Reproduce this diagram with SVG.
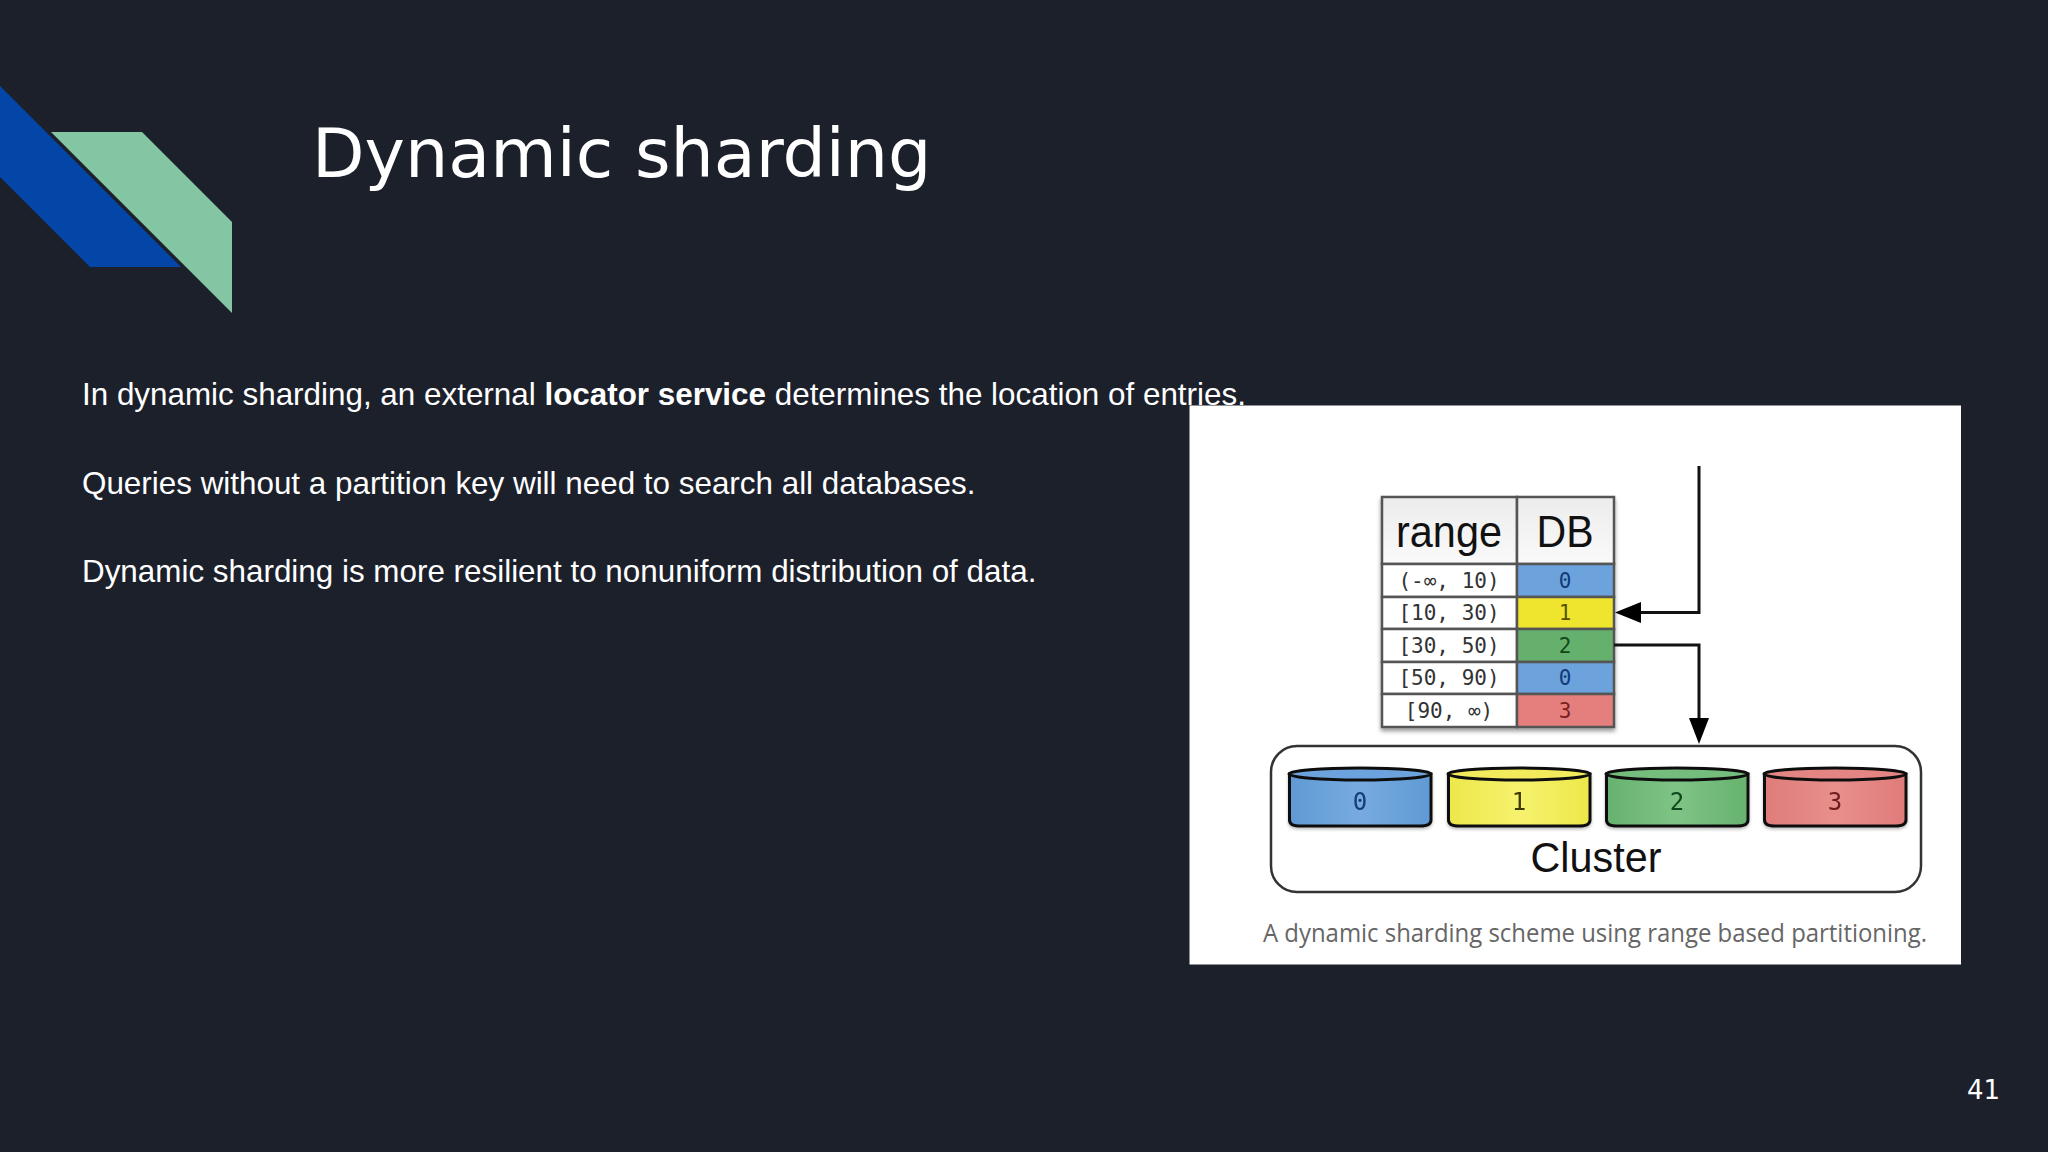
<svg xmlns="http://www.w3.org/2000/svg" width="2048" height="1152" viewBox="0 0 2048 1152">
<defs>
<style>
.body{font-family:"Liberation Sans",Arial,sans-serif;font-size:31.4px;fill:#fff}
.mono{font-family:"DejaVu Sans Mono","Liberation Mono",monospace;font-size:21px;text-anchor:middle;fill:#333}
.num{font-family:"DejaVu Sans Mono","Liberation Mono",monospace;font-size:24px;text-anchor:middle}
.hd{font-family:"Liberation Sans",Arial,sans-serif;font-size:44px;fill:#111;text-anchor:middle}
.cell{fill:#fff;stroke:#555;stroke-width:2.5}
.cyl{stroke:#111;stroke-width:3}
.ln{fill:none;stroke:#111;stroke-width:3}
</style>
<filter id="sh" x="-5%" y="-5%" width="110%" height="110%"><feDropShadow dx="0" dy="3" stdDeviation="2" flood-color="#000" flood-opacity=".4"/></filter>
<filter id="sh2" x="-5%" y="-10%" width="110%" height="125%"><feDropShadow dx="0" dy="2" stdDeviation="1.5" flood-color="#000" flood-opacity=".25"/></filter>
<linearGradient id="hg" x1="0" y1="0" x2="0" y2="1"><stop offset="0" stop-color="#ececec"/><stop offset="1" stop-color="#fafafa"/></linearGradient>
<linearGradient id="g0"><stop offset="0" stop-color="#6099d4"/><stop offset=".5" stop-color="#77abe0"/><stop offset="1" stop-color="#6099d4"/></linearGradient>
<linearGradient id="g1"><stop offset="0" stop-color="#ece84a"/><stop offset=".5" stop-color="#f6f26e"/><stop offset="1" stop-color="#ece84a"/></linearGradient>
<linearGradient id="g2"><stop offset="0" stop-color="#66b26e"/><stop offset=".5" stop-color="#7fc486"/><stop offset="1" stop-color="#66b26e"/></linearGradient>
<linearGradient id="g3"><stop offset="0" stop-color="#df7c7a"/><stop offset=".5" stop-color="#e88f8c"/><stop offset="1" stop-color="#df7c7a"/></linearGradient>
</defs>
<rect width="2048" height="1152" fill="#1c202b"/>
<polygon points="0,86 181,267 90,267 0,177" fill="#0346a8"/>
<polygon points="51,132 142,132 232,222 232,313" fill="#84c5a3"/>
<text x="312" y="177" font-family="'DejaVu Sans',sans-serif" font-size="68.3" fill="#fff">Dynamic sharding</text>
<text class="body" x="82" y="405">In dynamic sharding, an external <tspan font-weight="bold">locator service</tspan> determines the location of entries.</text>
<text class="body" x="82" y="493.500">Queries without a partition key will need to search all databases.</text>
<text class="body" x="82" y="582">Dynamic sharding is more resilient to nonuniform distribution of data.</text>
<text x="1967" y="1099" font-family="'DejaVu Sans',sans-serif" font-size="26" fill="#fff">41</text>
<rect x="1189.500" y="405.500" width="771.500" height="559" fill="#fff"/>
<g id="table" filter="url(#sh)">
<rect class="cell" x="1382" y="497" width="135" height="67" style="fill:url(#hg)"/>
<rect class="cell" x="1517" y="497" width="97" height="67" style="fill:url(#hg)"/>
<rect class="cell" x="1382" y="564" width="135" height="33"/><rect class="cell" x="1517" y="564" width="97" height="33" style="fill:#6ca3dc"/>
<rect class="cell" x="1382" y="597" width="135" height="32"/><rect class="cell" x="1517" y="597" width="97" height="32" style="fill:#efe52d"/>
<rect class="cell" x="1382" y="629" width="135" height="33"/><rect class="cell" x="1517" y="629" width="97" height="33" style="fill:#65b06c"/>
<rect class="cell" x="1382" y="662" width="135" height="32"/><rect class="cell" x="1517" y="662" width="97" height="32" style="fill:#6ca3dc"/>
<rect class="cell" x="1382" y="694" width="135" height="33"/><rect class="cell" x="1517" y="694" width="97" height="33" style="fill:#e57f7d"/>
</g>
<g id="table-text">
<text class="hd" x="1449" y="547" textLength="106" lengthAdjust="spacingAndGlyphs">range</text>
<text class="hd" x="1565" y="547" textLength="57" lengthAdjust="spacingAndGlyphs">DB</text>
<text class="mono" x="1449" y="588">(-∞, 10)</text>
<text class="mono" x="1449" y="620">[10, 30)</text>
<text class="mono" x="1449" y="653">[30, 50)</text>
<text class="mono" x="1449" y="685">[50, 90)</text>
<text class="mono" x="1449" y="718">[90, ∞)</text>
<text class="num" x="1565" y="588" fill="#123a78" style="font-size:21px">0</text>
<text class="num" x="1565" y="620" fill="#5a5200" style="font-size:21px">1</text>
<text class="num" x="1565" y="653" fill="#0f4a1a" style="font-size:21px">2</text>
<text class="num" x="1565" y="685" fill="#123a78" style="font-size:21px">0</text>
<text class="num" x="1565" y="718" fill="#7a1f1f" style="font-size:21px">3</text>
</g>
<g id="connectors">
<path class="ln" d="M1699 466V612.500H1640"/>
<polygon points="1615,612.500 1641,602 1641,623" fill="#000"/>
<path class="ln" d="M1614 645H1699V720"/>
<polygon points="1699,744 1689,718 1709,718" fill="#000"/>
</g>
<g id="cluster">
<rect x="1271" y="746" width="650" height="146" rx="26" ry="26" fill="#fff" stroke="#333" stroke-width="2.5"/>
<text x="1596" y="872" font-family="'Liberation Sans',Arial,sans-serif" font-size="42" fill="#111" text-anchor="middle" textLength="131" lengthAdjust="spacingAndGlyphs">Cluster</text>
</g>
<g id="db0" filter="url(#sh2)">
<path class="cyl" fill="url(#g0)" d="M1289.500 774V820Q1289.500 826 1300 826H1420Q1431 826 1431 820V774Z"/>
<ellipse class="cyl" cx="1360" cy="774" rx="71" ry="6" fill="#6ca3dc"/>
<text class="num" x="1360" y="810" fill="#123a78">0</text>
</g>
<g id="db1" filter="url(#sh2)">
<path class="cyl" fill="url(#g1)" d="M1448.500 774V820Q1448.500 826 1459 826H1579Q1590 826 1590 820V774Z"/>
<ellipse class="cyl" cx="1519" cy="774" rx="71" ry="6" fill="#f2ec5c"/>
<text class="num" x="1519" y="810" fill="#3c3800">1</text>
</g>
<g id="db2" filter="url(#sh2)">
<path class="cyl" fill="url(#g2)" d="M1606.500 774V820Q1606.500 826 1617 826H1737Q1748 826 1748 820V774Z"/>
<ellipse class="cyl" cx="1677" cy="774" rx="71" ry="6" fill="#74bd7b"/>
<text class="num" x="1677" y="810" fill="#0f4a1a">2</text>
</g>
<g id="db3" filter="url(#sh2)">
<path class="cyl" fill="url(#g3)" d="M1764.500 774V820Q1764.500 826 1775 826H1895Q1906 826 1906 820V774Z"/>
<ellipse class="cyl" cx="1835" cy="774" rx="71" ry="6" fill="#e58583"/>
<text class="num" x="1835" y="810" fill="#6e1c1c">3</text>
</g>
<text x="1263" y="942" font-family="'Open Sans',sans-serif" font-size="25" fill="#666" textLength="664" lengthAdjust="spacingAndGlyphs">A dynamic sharding scheme using range based partitioning.</text>
</svg>
